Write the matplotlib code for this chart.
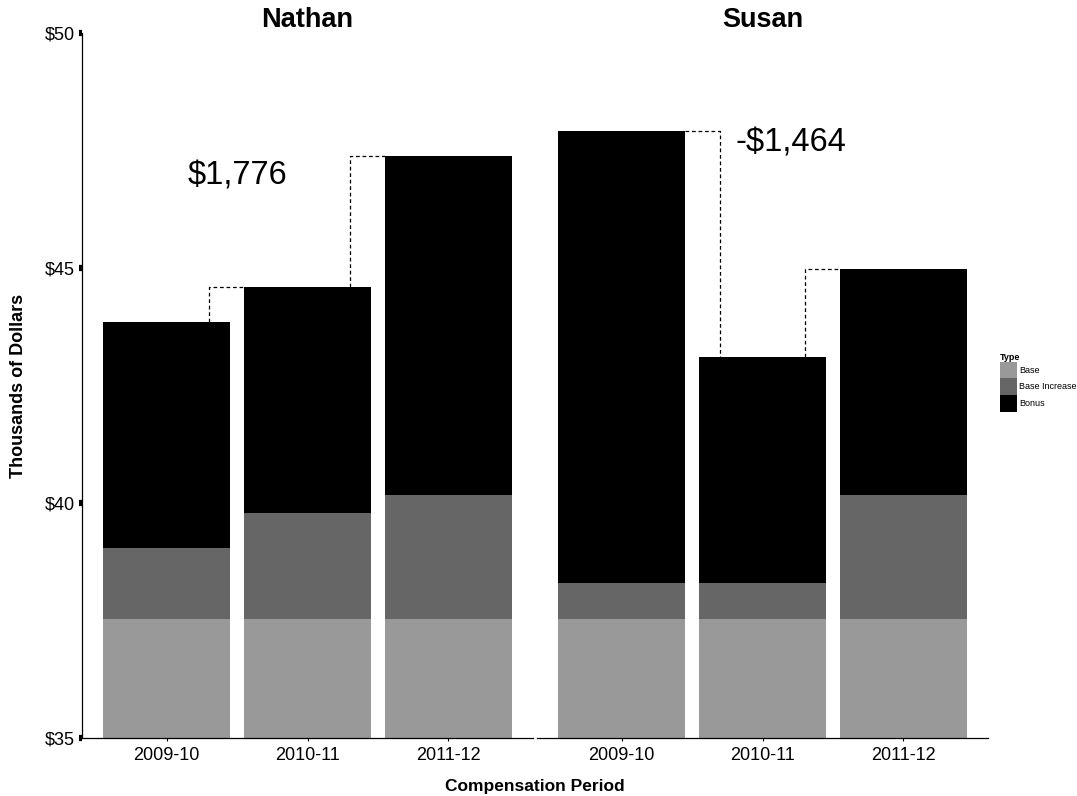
import matplotlib
matplotlib.use('Agg')
import matplotlib.pyplot as plt
from matplotlib.patches import Patch
import numpy as np

plt.rcParams['font.family'] = ['Liberation Sans', 'DejaVu Sans']

periods = ['2009-10', '2010-11', '2011-12']
people = ['Nathan', 'Susan']

# thousands of dollars
base = {'Nathan': [37.53, 37.53, 37.53], 'Susan': [37.53, 37.53, 37.53]}
base_increase = {'Nathan': [1.51, 2.26, 2.64], 'Susan': [0.77, 0.77, 2.64]}
bonus = {'Nathan': [4.81, 4.81, 7.21], 'Susan': [9.61, 4.81, 4.81]}

change_labels = {'Nathan': '$1,776', 'Susan': '-$1,464'}
label_pos = {'Nathan': (1.5, 46.95), 'Susan': (2.2, 47.65)}

colors = {'Base': '#999999', 'Base Increase': '#666666', 'Bonus': '#000000'}

fig = plt.figure(figsize=(10.77, 7.96), dpi=100)
W, H = 1077, 796
axes = [fig.add_axes([82 / W, 58 / H, 451 / W, 705 / H]),
        fig.add_axes([537 / W, 58 / H, 451 / W, 705 / H])]

x = np.arange(1, len(periods) + 1)
width = 0.9

for ax, name in zip(axes, people):
    b = np.array(base[name])
    bi = np.array(base_increase[name])
    bo = np.array(bonus[name])
    ax.bar(x, b, width, color=colors['Base'])
    ax.bar(x, bi, width, bottom=b, color=colors['Base Increase'])
    ax.bar(x, bo, width, bottom=b + bi, color=colors['Bonus'])
    tops = b + bi + bo

    # dashed connectors between consecutive bar tops
    for i in range(len(x) - 1):
        t0, t1 = tops[i], tops[i + 1]
        if t1 >= t0:
            xs = [x[i] + 0.3, x[i] + 0.3, x[i + 1] - width / 2]
            ys = [t0, t1, t1]
        else:
            xs = [x[i] + width / 2, x[i + 1] - 0.3, x[i + 1] - 0.3]
            ys = [t0, t0, t1]
        ax.plot(xs, ys, color='black', lw=0.9, ls=(0, (3, 2.2)))

    lx, ly = label_pos[name]
    ax.text(lx, ly, change_labels[name], fontsize=23.5, ha='center', va='center')

    ax.set_xlim(0.4, 3.6)
    ax.set_ylim(35, 50)
    ax.set_xticks(x)
    ax.set_xticklabels(periods, fontsize=13)
    ax.tick_params(axis='x', length=2.2, width=0.8, pad=4)
    ax.set_title(name, fontsize=19.5, fontweight='bold', pad=1.5)
    for s in ['top', 'right']:
        ax.spines[s].set_visible(False)
    ax.spines['bottom'].set_linewidth(0.9)

ax0, ax1 = axes
ax0.set_yticks([35, 40, 45, 50])
ax0.set_yticklabels(['$35', '$40', '$45', '$50'], fontsize=13)
ax0.tick_params(axis='y', length=2.2, width=4.5, pad=3)
ax0.spines['left'].set_linewidth(0.9)
ax0.set_ylabel('Thousands of Dollars', fontsize=13, fontweight='bold', labelpad=13)
ax1.spines['left'].set_visible(False)
ax1.set_yticks([])

fig.text(535 / W, 1 - 786 / H, 'Compensation Period', fontsize=12.5,
         fontweight='bold', ha='center', va='center')

handles = [Patch(facecolor=c, edgecolor='none', label=k) for k, c in colors.items()]
leg = fig.legend(handles=handles, title='Type', loc='upper left',
                 bbox_to_anchor=(998 / W, 1 - 351 / H), frameon=False,
                 fontsize=6.5, title_fontsize=6.5, handlelength=1.85,
                 handleheight=2.45, handletextpad=0.25, labelspacing=0.0,
                 borderpad=0.2, borderaxespad=0)
leg.get_title().set_fontweight('bold')
leg._legend_box.align = 'left'

fig.savefig('out.png', dpi=100)
